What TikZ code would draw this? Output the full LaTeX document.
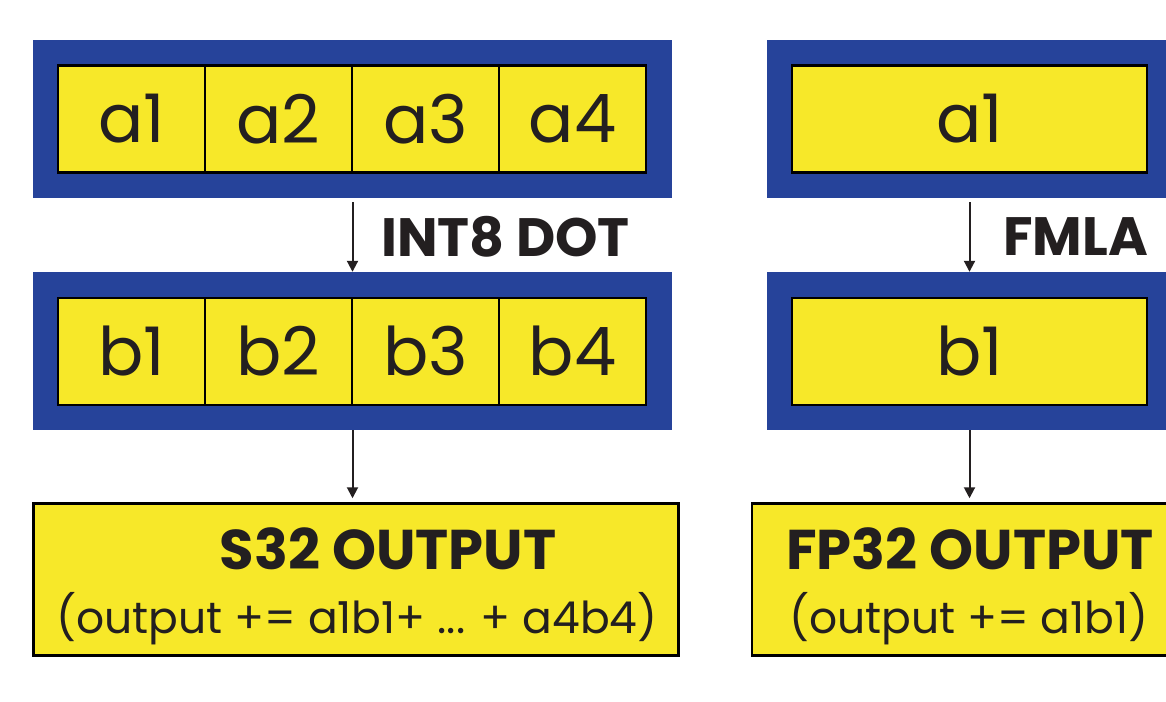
\documentclass[tikz,border=0pt]{standalone}
\usepackage{fontspec}
\setmainfont{Poppins}
\usetikzlibrary{arrows.meta}
\definecolor{regblue}{HTML}{26439A}
\definecolor{cellyellow}{HTML}{F7E829}
\definecolor{ink}{HTML}{231F20}
\tikzset{
  reg/.style={fill=regblue, draw=none, minimum width=#1, minimum height=158pt, inner sep=0pt},
  cell/.style={fill=cellyellow, draw=black, line width=2.5pt, minimum width=#1, minimum height=107pt, inner sep=0pt, text=ink, font=\fontsize{67}{72}\selectfont},
  outbox/.style={fill=cellyellow, draw=black, line width=2.5pt, inner sep=0pt},
  opname/.style={text=ink, font=\fontsize{54}{60}\selectfont\bfseries, inner sep=0pt, anchor=west},
  outtitle/.style={text=ink, font=\fontsize{56}{62}\selectfont\bfseries, inner sep=0pt},
  outexpr/.style={text=ink, font=\fontsize{44}{50}\selectfont, inner sep=0pt},
  flow/.style={draw=ink, line width=2pt, -{Triangle[length=11pt,width=11pt]}}
}
\begin{document}
\begin{tikzpicture}[x=1pt,y=-1pt]
\useasboundingbox (0,0) rectangle (1166,701);
\clip (0,0) rectangle (1166,701);
% left column
\node[reg=639pt] (ra) at (352.5,119) {};
\node[cell=147pt] (a1) at (131.5,119) {a1};
\node[cell=147pt] (a2) at (278.5,119) {a2};
\node[cell=147pt] (a3) at (425.5,119) {a3};
\node[cell=147pt] (a4) at (572.5,119) {a4};
\node[reg=639pt] (rb) at (352.5,351) {};
\node[cell=147pt] (b1) at (131.5,351.5) {b1};
\node[cell=147pt] (b2) at (278.5,351.5) {b2};
\node[cell=147pt] (b3) at (425.5,351.5) {b3};
\node[cell=147pt] (b4) at (572.5,351.5) {b4};
\node[outbox, minimum width=645pt, minimum height=152pt] (outl) at (356,579.5) {};
\node[outtitle] (tl) at (388,549) {S32 OUTPUT};
\node[outexpr] (el) at (357,619) {(output += a1b1+ ... + a4b4)};
\node[opname] (int8) at (381,237) {INT8 DOT};
\draw[flow, shorten <=4pt] (ra.south) -- (rb.north);
\draw[flow, shorten >=4pt] (rb.south) -- (outl.north -| rb.south);
% right column
\node[reg=405pt] (rc) at (969.5,119) {};
\node[cell=355pt] (c1) at (969.5,119) {a1};
\node[reg=405pt] (rd) at (969.5,351) {};
\node[cell=355pt] (d1) at (969.5,351.5) {b1};
\node[outbox, minimum width=440pt, minimum height=152pt] (outr) at (972,579.5) {};
\node[outtitle] (tr) at (970,549) {FP32 OUTPUT};
\node[outexpr] (er) at (969,619) {(output += a1b1)};
\node[opname] (fmla) at (1003,237) {FMLA};
\draw[flow, shorten <=4pt] (rc.south) -- (rd.north);
\draw[flow, shorten >=4pt] (rd.south) -- (outr.north -| rd.south);
\end{tikzpicture}
\end{document}
